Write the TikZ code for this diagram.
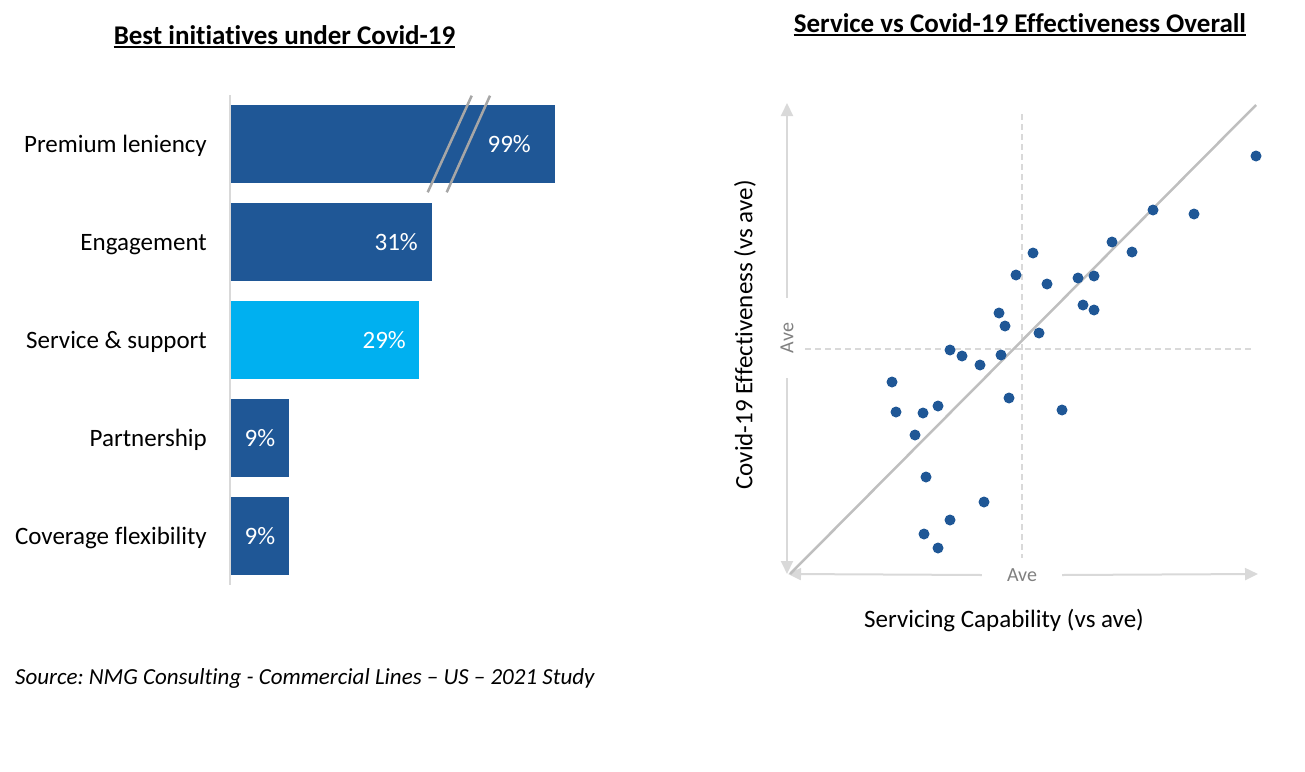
\documentclass[tikz,border=0pt]{standalone}
\usepackage{fontspec}
\setmainfont{Carlito}[Ligatures={TeX,NoCommon}]
\usepackage{tikz}
\usetikzlibrary{arrows.meta,backgrounds}
\definecolor{barblue}{HTML}{1F5796}
\definecolor{barcyan}{HTML}{00B0F0}
\definecolor{axisgray}{HTML}{D9D9D9}
\definecolor{fitgray}{HTML}{BFBFBF}
\definecolor{breakgray}{HTML}{A6A6A6}
\definecolor{avegray}{HTML}{808080}
\frenchspacing

\begin{document}
\begin{tikzpicture}[x=1pt,y=-1pt,
  bar/.style={fill=barblue, inner sep=0pt, minimum height=78pt, anchor=west},
  lbl/.style={anchor=base east, inner sep=0pt, font=\fontsize{25}{30}\selectfont},
  pct/.style={text=white, inner sep=0pt, font=\fontsize{25}{30}\selectfont},
  ttl/.style={anchor=base, inner sep=0pt, font=\fontsize{27}{32}\selectfont\bfseries},
  dot/.style={circle, fill=barblue, inner sep=0pt, minimum size=11pt},
  axisarrow/.style={axisgray, line width=2pt, -{Triangle[length=13pt,width=12pt]}},
  ave/.style={text=avegray, font=\fontsize{20}{24}\selectfont, inner ysep=0pt, inner xsep=25pt}]
\useasboundingbox (0,0) rectangle (1305,771);

% left chart
\node[ttl] (ttlA) at (284.5,44) {Best initiatives under Covid-19};
\draw[line width=2pt] ([yshift=-3pt]ttlA.base west) -- ([yshift=-3pt]ttlA.base east);
\draw[axisgray, line width=2pt] (230,95) -- (230,585);
\node[bar, minimum width=324pt] (barA) at (231,144) {};
\node[bar, minimum width=201pt] (barB) at (231,242) {};
\node[bar, minimum width=188pt, fill=barcyan] (barC) at (231,340) {};
\node[bar, minimum width=58pt] (barD) at (231,438) {};
\node[bar, minimum width=58pt] (barE) at (231,536) {};
\draw[breakgray, line width=2.5pt] (471.7,95.7) -- (427.7,192.3);
\draw[breakgray, line width=2.5pt] (490,95.7) -- (446.7,192.3);
\node[lbl] (lblA) at (207,152) {Premium leniency};
\node[lbl] (lblB) at (207,250) {Engagement};
\node[lbl] (lblC) at (207,348) {Service \& support};
\node[lbl] (lblD) at (207,446) {Partnership};
\node[lbl] (lblE) at (207,544) {Coverage flexibility};
\node[pct, anchor=base east] (pctA) at (531,152) {99\%};
\node[pct, anchor=base east] (pctB) at (418,250) {31\%};
\node[pct, anchor=base east] (pctC) at (406,348) {29\%};
\node[pct, anchor=base] (pctD) at (260,446) {9\%};
\node[pct, anchor=base] (pctE) at (260,544) {9\%};
\node[anchor=base west, inner sep=0pt, font=\fontsize{23}{28}\selectfont\itshape] (src) at (15,684)
  {Source: NMG Consulting - Commercial Lines – US – 2021 Study};

% right chart
\node[ttl] (ttlB) at (1020,32) {Service vs Covid-19 Effectiveness Overall};
\draw[line width=2pt] ([yshift=-3pt]ttlB.base west) -- ([yshift=-3pt]ttlB.base east);
\coordinate (ytop) at (787,103);
\coordinate (ybot) at (787,574);
\coordinate (xleft) at (788,574);
\coordinate (xright) at (1258,574);
\node[ave, rotate=90] (aveY) at (787,338) {Ave};
\node[ave] (aveX) at (1022,575) {Ave};
\draw[axisarrow] (aveY.east) -- (ytop);
\draw[axisarrow] (aveY.west) -- (ybot);
\draw[axisarrow] (aveX.west) -- (xleft);
\draw[axisarrow] (aveX.east) -- (xright);
\draw[axisgray, line width=1.5pt, dash pattern=on 6pt off 4pt] (1022,114) -- (1022,558);
\draw[axisgray, line width=1.5pt, dash pattern=on 6pt off 4pt] (805,349) -- (1253,349);
\draw[fitgray, line width=2.5pt] (790,574) -- (1256,105);
\node[rotate=90, font=\fontsize{25}{30}\selectfont] (ylab) at (745,335) {Covid-19 Effectiveness (vs ave)};
\node[font=\fontsize{25}{30}\selectfont] (xlab) at (1004,620) {Servicing Capability (vs ave)};
\node[dot] (p1) at (1256,156) {};
\node[dot] (p2) at (1153,210) {};
\node[dot] (p3) at (1194,214) {};
\node[dot] (p4) at (1112,242) {};
\node[dot] (p5) at (1132,252) {};
\node[dot] (p6) at (1033,253) {};
\node[dot] (p7) at (1016,275) {};
\node[dot] (p8) at (1047,284) {};
\node[dot] (p9) at (1078,278) {};
\node[dot] (p10) at (1094,276) {};
\node[dot] (p11) at (1083,305) {};
\node[dot] (p12) at (1094,310) {};
\node[dot] (p13) at (999,313) {};
\node[dot] (p14) at (1005,326) {};
\node[dot] (p15) at (1039,333) {};
\node[dot] (p16) at (950,350) {};
\node[dot] (p17) at (962,356) {};
\node[dot] (p18) at (980,365) {};
\node[dot] (p19) at (1001,355) {};
\node[dot] (p20) at (892,382) {};
\node[dot] (p21) at (1009,398) {};
\node[dot] (p22) at (896,412) {};
\node[dot] (p23) at (923,413) {};
\node[dot] (p24) at (938,406) {};
\node[dot] (p25) at (1062,410) {};
\node[dot] (p26) at (915,435) {};
\node[dot] (p27) at (926,477) {};
\node[dot] (p28) at (984,502) {};
\node[dot] (p29) at (950,520) {};
\node[dot] (p30) at (924,534) {};
\node[dot] (p31) at (938,548) {};
\end{tikzpicture}
\end{document}
